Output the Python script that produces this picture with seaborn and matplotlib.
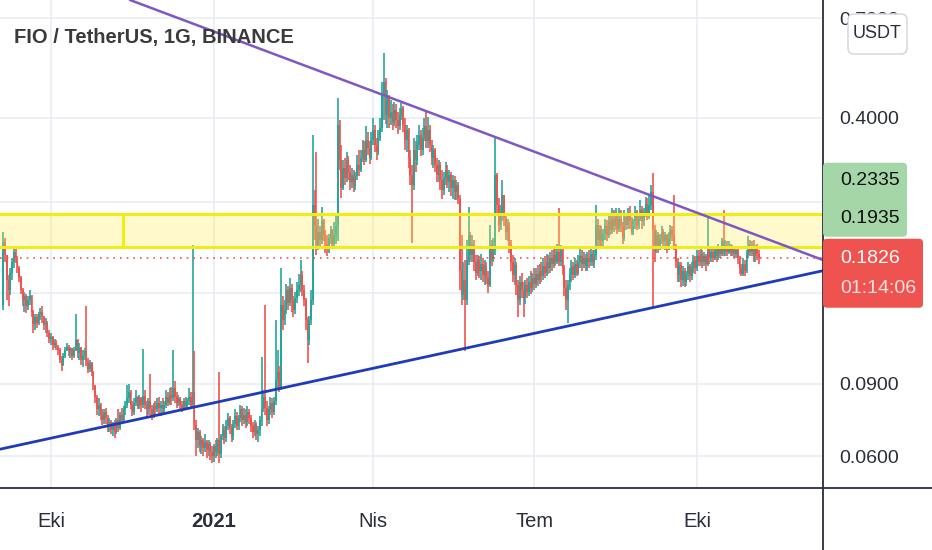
import matplotlib
matplotlib.use("Agg")
import matplotlib.pyplot as plt
from matplotlib.patches import FancyBboxPatch, Rectangle
from matplotlib.lines import Line2D
from matplotlib.ticker import NullLocator
from matplotlib.transforms import IdentityTransform
import numpy as np
import pandas as pd
import seaborn as sns

sns.set_theme(style="white")
plt.rcParams['font.family'] = ['Liberation Sans', 'DejaVu Sans']

# ----- data (FIO/USDT daily) -----
start_date = "2020-09-04"
first_open = 0.140

closes = [
    0.200, 0.185, 0.161, 0.152, 0.168, 0.178, 0.189, 0.182, 0.172, 0.163,
    0.152, 0.144, 0.147, 0.139, 0.144, 0.147, 0.135, 0.126, 0.131, 0.127,
    0.133, 0.135, 0.131, 0.125, 0.127, 0.120, 0.116, 0.117, 0.112, 0.113,
    0.111, 0.109, 0.103, 0.100, 0.105, 0.109, 0.111, 0.108, 0.110, 0.105,
    0.109, 0.115, 0.107, 0.110, 0.103, 0.105, 0.108, 0.102, 0.098, 0.101,
    0.096, 0.089, 0.0835, 0.078, 0.080, 0.0757, 0.0735, 0.077, 0.0743, 0.071,
    0.0727, 0.0695, 0.072, 0.0687, 0.0735, 0.0703, 0.0757, 0.0735, 0.078, 0.080,
    0.083, 0.086, 0.080, 0.077, 0.081, 0.0835, 0.0795, 0.083, 0.080, 0.084,
    0.080, 0.078, 0.082, 0.078, 0.0757, 0.0795, 0.078, 0.081, 0.0785, 0.080,
    0.078, 0.080, 0.0835, 0.081, 0.0845, 0.083, 0.088, 0.0835, 0.081, 0.083,
    0.080, 0.0785, 0.082, 0.0795, 0.082, 0.0835, 0.080, 0.086, 0.0715, 0.0657,
    0.0687, 0.0635, 0.0657, 0.0628, 0.065, 0.0621, 0.0643, 0.0614, 0.060, 0.0635,
    0.0614, 0.0657, 0.0607, 0.0672, 0.0695, 0.0664, 0.071, 0.0743, 0.0703, 0.0672,
    0.072, 0.075, 0.071, 0.0743, 0.078, 0.0735, 0.0757, 0.0727, 0.077, 0.0743,
    0.071, 0.0687, 0.072, 0.068, 0.0695, 0.0735, 0.078, 0.0835, 0.0785, 0.0735,
    0.078, 0.081, 0.077, 0.082, 0.092, 0.096, 0.0885, 0.140, 0.129, 0.136,
    0.152, 0.142, 0.154, 0.144, 0.136, 0.146, 0.152, 0.157, 0.166, 0.152,
    0.144, 0.129, 0.115, 0.129, 0.144, 0.246, 0.219, 0.196, 0.211, 0.202,
    0.224, 0.207, 0.197, 0.193, 0.204, 0.213, 0.197, 0.207, 0.218, 0.385,
    0.316, 0.270, 0.302, 0.285, 0.316, 0.295, 0.279, 0.290, 0.273, 0.289,
    0.307, 0.299, 0.319, 0.334, 0.316, 0.354, 0.338, 0.319, 0.354, 0.374,
    0.344, 0.331, 0.358, 0.378, 0.455, 0.490, 0.407, 0.448, 0.400, 0.414,
    0.391, 0.418, 0.396, 0.383, 0.407, 0.422, 0.385, 0.354, 0.374, 0.319,
    0.290, 0.275, 0.334, 0.316, 0.344, 0.364, 0.334, 0.358, 0.383, 0.351,
    0.374, 0.344, 0.319, 0.334, 0.307, 0.290, 0.307, 0.282, 0.267, 0.285,
    0.299, 0.279, 0.290, 0.270, 0.282, 0.264, 0.275, 0.254, 0.170, 0.148,
    0.161, 0.144, 0.180, 0.208, 0.185, 0.196, 0.178, 0.168, 0.180, 0.170,
    0.176, 0.166, 0.174, 0.163, 0.157, 0.196, 0.180, 0.191, 0.290, 0.246,
    0.219, 0.232, 0.260, 0.228, 0.211, 0.220, 0.196, 0.178, 0.166, 0.175,
    0.157, 0.144, 0.159, 0.152, 0.146, 0.157, 0.151, 0.159, 0.154, 0.163,
    0.158, 0.167, 0.161, 0.170, 0.165, 0.174, 0.168, 0.178, 0.172, 0.182,
    0.176, 0.185, 0.178, 0.189, 0.178, 0.191, 0.172, 0.154, 0.144, 0.157,
    0.166, 0.174, 0.166, 0.176, 0.168, 0.178, 0.184, 0.176, 0.182, 0.174,
    0.182, 0.178, 0.187, 0.178, 0.185, 0.219, 0.202, 0.213, 0.201, 0.209,
    0.218, 0.207, 0.224, 0.213, 0.227, 0.218, 0.230, 0.215, 0.227, 0.218,
    0.204, 0.230, 0.220, 0.232, 0.224, 0.211, 0.224, 0.232, 0.218, 0.227,
    0.239, 0.224, 0.236, 0.247, 0.232, 0.246, 0.264, 0.213, 0.196, 0.207,
    0.195, 0.204, 0.211, 0.201, 0.207, 0.195, 0.204, 0.213, 0.207, 0.195,
    0.178, 0.166, 0.175, 0.161, 0.170, 0.159, 0.167, 0.174, 0.165, 0.172,
    0.180, 0.172, 0.184, 0.178, 0.187, 0.178, 0.184, 0.176, 0.191, 0.182,
    0.189, 0.182, 0.191, 0.184, 0.193, 0.187, 0.201, 0.189, 0.195, 0.189,
    0.195, 0.189, 0.193, 0.187, 0.191, 0.182, 0.172, 0.167, 0.176, 0.170,
    0.185, 0.196, 0.189, 0.195, 0.184, 0.193, 0.187, 0.1826,
]

highs = [
    0.211, 0.204, 0.182, 0.166, 0.172, 0.182, 0.194, 0.193, 0.184, 0.174,
    0.165, 0.154, 0.151, 0.149, 0.147, 0.152, 0.148, 0.136, 0.133, 0.133,
    0.135, 0.138, 0.139, 0.132, 0.130, 0.128, 0.122, 0.120, 0.118, 0.116,
    0.115, 0.112, 0.110, 0.105, 0.107, 0.111, 0.113, 0.112, 0.111, 0.110,
    0.111, 0.133, 0.116, 0.113, 0.111, 0.109, 0.110, 0.139, 0.104, 0.103,
    0.102, 0.097, 0.0895, 0.0845, 0.083, 0.081, 0.078, 0.078, 0.0785, 0.0757,
    0.0743, 0.0735, 0.0727, 0.0735, 0.0743, 0.078, 0.077, 0.0785, 0.0795, 0.082,
    0.0895, 0.090, 0.087, 0.082, 0.083, 0.087, 0.084, 0.0845, 0.0835, 0.1095,
    0.087, 0.082, 0.083, 0.095, 0.080, 0.081, 0.082, 0.083, 0.0835, 0.082,
    0.083, 0.082, 0.087, 0.086, 0.088, 0.0885, 0.109, 0.0915, 0.086, 0.0845,
    0.0835, 0.082, 0.083, 0.0835, 0.083, 0.088, 0.086, 0.196, 0.108, 0.0735,
    0.0703, 0.0695, 0.0672, 0.0664, 0.068, 0.0657, 0.0657, 0.065, 0.0635, 0.0643,
    0.0657, 0.0664, 0.096, 0.068, 0.072, 0.071, 0.0735, 0.0763, 0.075, 0.072,
    0.0735, 0.078, 0.077, 0.0757, 0.080, 0.0795, 0.0785, 0.078, 0.0795, 0.078,
    0.0757, 0.0727, 0.0735, 0.0727, 0.071, 0.075, 0.1045, 0.087, 0.140, 0.082,
    0.0795, 0.0835, 0.083, 0.0835, 0.129, 0.109, 0.0995, 0.172, 0.147, 0.144,
    0.158, 0.156, 0.163, 0.158, 0.147, 0.151, 0.159, 0.167, 0.180, 0.170,
    0.157, 0.146, 0.131, 0.132, 0.152, 0.364, 0.267, 0.331, 0.227, 0.218,
    0.243, 0.227, 0.213, 0.207, 0.209, 0.218, 0.215, 0.223, 0.234, 0.447,
    0.396, 0.344, 0.316, 0.319, 0.331, 0.324, 0.307, 0.302, 0.299, 0.295,
    0.325, 0.334, 0.334, 0.354, 0.351, 0.382, 0.370, 0.351, 0.370, 0.400,
    0.385, 0.358, 0.374, 0.400, 0.490, 0.576, 0.501, 0.468, 0.455, 0.443,
    0.433, 0.438, 0.433, 0.414, 0.422, 0.435, 0.427, 0.400, 0.385, 0.378,
    0.334, 0.307, 0.358, 0.351, 0.364, 0.385, 0.374, 0.378, 0.400, 0.414,
    0.402, 0.385, 0.354, 0.344, 0.338, 0.319, 0.316, 0.312, 0.299, 0.295,
    0.312, 0.307, 0.299, 0.295, 0.290, 0.289, 0.282, 0.279, 0.260, 0.208,
    0.178, 0.180, 0.202, 0.243, 0.211, 0.208, 0.202, 0.185, 0.185, 0.184,
    0.187, 0.182, 0.180, 0.178, 0.170, 0.219, 0.202, 0.204, 0.360, 0.293,
    0.256, 0.246, 0.282, 0.259, 0.235, 0.227, 0.223, 0.202, 0.185, 0.182,
    0.178, 0.161, 0.165, 0.168, 0.159, 0.161, 0.163, 0.165, 0.170, 0.168,
    0.172, 0.172, 0.175, 0.176, 0.178, 0.182, 0.184, 0.187, 0.185, 0.189,
    0.191, 0.193, 0.195, 0.197, 0.241, 0.196, 0.193, 0.175, 0.161, 0.161,
    0.172, 0.180, 0.178, 0.182, 0.180, 0.185, 0.193, 0.191, 0.189, 0.187,
    0.189, 0.191, 0.193, 0.191, 0.191, 0.246, 0.227, 0.220, 0.218, 0.215,
    0.227, 0.226, 0.234, 0.235, 0.241, 0.239, 0.241, 0.235, 0.241, 0.239,
    0.223, 0.239, 0.235, 0.241, 0.244, 0.230, 0.227, 0.244, 0.239, 0.235,
    0.252, 0.244, 0.241, 0.257, 0.256, 0.260, 0.275, 0.293, 0.219, 0.213,
    0.211, 0.209, 0.218, 0.215, 0.211, 0.209, 0.211, 0.220, 0.218, 0.260,
    0.197, 0.182, 0.178, 0.178, 0.174, 0.172, 0.170, 0.178, 0.176, 0.178,
    0.185, 0.184, 0.191, 0.191, 0.193, 0.191, 0.189, 0.187, 0.233, 0.195,
    0.195, 0.193, 0.195, 0.195, 0.197, 0.195, 0.204, 0.239, 0.202, 0.201,
    0.201, 0.197, 0.196, 0.195, 0.195, 0.193, 0.184, 0.176, 0.182, 0.180,
    0.191, 0.206, 0.202, 0.201, 0.202, 0.196, 0.197, 0.191,
]

lows = [
    0.136, 0.178, 0.144, 0.139, 0.148, 0.161, 0.172, 0.177, 0.168, 0.159,
    0.149, 0.139, 0.135, 0.134, 0.136, 0.140, 0.131, 0.120, 0.122, 0.123,
    0.125, 0.129, 0.127, 0.122, 0.120, 0.117, 0.113, 0.112, 0.109, 0.110,
    0.109, 0.106, 0.101, 0.097, 0.0995, 0.104, 0.108, 0.105, 0.104, 0.103,
    0.104, 0.108, 0.104, 0.103, 0.100, 0.099, 0.103, 0.0995, 0.0955, 0.096,
    0.094, 0.087, 0.081, 0.0755, 0.075, 0.0735, 0.0715, 0.072, 0.072, 0.0687,
    0.0687, 0.068, 0.0672, 0.0664, 0.068, 0.0687, 0.0695, 0.072, 0.0727, 0.0757,
    0.0785, 0.081, 0.078, 0.075, 0.0757, 0.0795, 0.078, 0.078, 0.077, 0.0785,
    0.078, 0.0743, 0.0757, 0.0757, 0.0735, 0.0743, 0.075, 0.077, 0.0757, 0.075,
    0.0757, 0.0757, 0.0785, 0.0795, 0.080, 0.080, 0.082, 0.081, 0.0785, 0.0795,
    0.078, 0.077, 0.078, 0.078, 0.0785, 0.080, 0.0785, 0.0795, 0.0695, 0.060,
    0.0628, 0.0614, 0.0607, 0.060, 0.0614, 0.0594, 0.060, 0.0587, 0.0577, 0.058,
    0.0594, 0.060, 0.0577, 0.0594, 0.0657, 0.0643, 0.065, 0.0695, 0.068, 0.065,
    0.0657, 0.0703, 0.0695, 0.0695, 0.0727, 0.071, 0.072, 0.0703, 0.071, 0.072,
    0.0687, 0.0664, 0.0672, 0.0657, 0.065, 0.0672, 0.071, 0.077, 0.0757, 0.071,
    0.072, 0.0757, 0.0743, 0.0757, 0.080, 0.088, 0.086, 0.087, 0.122, 0.125,
    0.133, 0.136, 0.139, 0.135, 0.131, 0.133, 0.142, 0.147, 0.151, 0.147,
    0.139, 0.122, 0.101, 0.112, 0.125, 0.140, 0.202, 0.185, 0.191, 0.194,
    0.197, 0.201, 0.188, 0.184, 0.188, 0.197, 0.193, 0.195, 0.197, 0.201,
    0.299, 0.256, 0.267, 0.275, 0.279, 0.282, 0.267, 0.270, 0.264, 0.267,
    0.282, 0.289, 0.295, 0.312, 0.307, 0.312, 0.325, 0.309, 0.316, 0.344,
    0.331, 0.316, 0.325, 0.351, 0.370, 0.396, 0.387, 0.378, 0.378, 0.385,
    0.374, 0.383, 0.378, 0.366, 0.374, 0.396, 0.370, 0.334, 0.331, 0.302,
    0.275, 0.198, 0.267, 0.295, 0.307, 0.334, 0.323, 0.325, 0.351, 0.338,
    0.338, 0.331, 0.307, 0.302, 0.295, 0.279, 0.279, 0.267, 0.254, 0.260,
    0.275, 0.270, 0.264, 0.258, 0.254, 0.252, 0.252, 0.247, 0.152, 0.140,
    0.144, 0.108, 0.140, 0.175, 0.178, 0.178, 0.170, 0.161, 0.165, 0.163,
    0.161, 0.159, 0.157, 0.158, 0.150, 0.155, 0.174, 0.178, 0.185, 0.232,
    0.211, 0.213, 0.224, 0.218, 0.202, 0.201, 0.188, 0.170, 0.159, 0.157,
    0.148, 0.131, 0.140, 0.146, 0.131, 0.141, 0.146, 0.147, 0.149, 0.151,
    0.152, 0.154, 0.156, 0.158, 0.159, 0.161, 0.163, 0.165, 0.167, 0.168,
    0.170, 0.172, 0.174, 0.176, 0.174, 0.174, 0.166, 0.147, 0.136, 0.127,
    0.152, 0.159, 0.161, 0.163, 0.165, 0.166, 0.172, 0.170, 0.172, 0.170,
    0.170, 0.172, 0.174, 0.174, 0.172, 0.180, 0.195, 0.193, 0.193, 0.195,
    0.202, 0.201, 0.204, 0.207, 0.209, 0.211, 0.213, 0.209, 0.211, 0.211,
    0.197, 0.201, 0.213, 0.215, 0.215, 0.207, 0.207, 0.215, 0.213, 0.215,
    0.224, 0.215, 0.218, 0.230, 0.226, 0.227, 0.239, 0.138, 0.178, 0.188,
    0.188, 0.191, 0.197, 0.193, 0.191, 0.188, 0.191, 0.197, 0.201, 0.191,
    0.172, 0.159, 0.159, 0.155, 0.156, 0.155, 0.156, 0.161, 0.159, 0.161,
    0.168, 0.167, 0.170, 0.174, 0.174, 0.172, 0.174, 0.170, 0.174, 0.176,
    0.178, 0.178, 0.180, 0.178, 0.180, 0.182, 0.184, 0.184, 0.184, 0.184,
    0.187, 0.184, 0.184, 0.182, 0.182, 0.176, 0.167, 0.165, 0.165, 0.165,
    0.168, 0.182, 0.184, 0.184, 0.178, 0.178, 0.180, 0.176,
]

# drawn objects
zone_low, zone_high = 0.1935, 0.2335
zone_split_date = "2020-11-10 16:00"
upper_trend_dates = ["2020-11-14 15:00", "2021-12-11 04:00"]
upper_trend_prices = [0.775, 0.1803]
lower_trend_dates = ["2020-09-02 04:30", "2021-12-11 04:00"]
lower_trend_prices = [0.0624, 0.1698]

y_ticks = [0.7, 0.4, 0.25, 0.15, 0.09, 0.06]
y_tick_labels = ["0.7000", "0.4000", "", "", "0.0900", "0.0600"]
x_ticks = ["2020-10-01", "2021-01-01", "2021-04-01", "2021-07-01", "2021-10-01"]
x_tick_labels = ["Eki", "2021", "Nis", "Tem", "Eki"]
x_range = ["2020-09-02 04:30", "2021-12-11 04:00"]
y_range = [0.0502, 0.775]
countdown = "01:14:06"
title = "FIO / TetherUS, 1G, BINANCE"

UP, DOWN = "#26a69a", "#ef5350"
TXT = "#2a2e39"
W, H = 932, 550

# ----- frame -----
dates = pd.date_range(start_date, periods=len(closes), freq="D")
opens = [first_open] + closes[:-1]
df = pd.DataFrame({"date": dates, "open": opens, "high": highs,
                   "low": lows, "close": closes})
df["color"] = np.where(df["close"] >= df["open"], UP, DOWN)

fig = plt.figure(figsize=(W / 100, H / 100), dpi=100)
fig.patch.set_facecolor("white")
ax = fig.add_axes([0, 62 / H, 823 / W, 488 / H])
ax.set_facecolor("white")

ax.set_yscale("log")
ax.set_ylim(*y_range)
ax.set_xlim(pd.Timestamp(x_range[0]), pd.Timestamp(x_range[1]))

# candles
ax.vlines(df["date"], df["low"], df["high"], colors=df["color"], lw=1.2, zorder=2)
ax.bar(df["date"], df["close"] - df["open"], bottom=df["open"], width=0.95,
       color=df["color"], linewidth=0, zorder=3)

# support/resistance zone (fill over candles, like the screenshot)
x_left = pd.Timestamp(x_range[0]) - pd.Timedelta(days=30)
x_right = pd.Timestamp(x_range[1]) + pd.Timedelta(days=30)
ax.add_patch(Rectangle((matplotlib.dates.date2num(x_left), zone_low),
                       matplotlib.dates.date2num(x_right) - matplotlib.dates.date2num(x_left),
                       zone_high - zone_low, facecolor="#ffee58", alpha=0.3,
                       edgecolor="none", zorder=4))
ax.hlines([zone_low, zone_high], x_left, x_right, colors="#f0ec14", lw=2.2, zorder=5)
ax.vlines(pd.Timestamp(zone_split_date), zone_low, zone_high, colors="#f0ec14", lw=2.2, zorder=5)

# last price line
ax.axhline(closes[-1], color=DOWN, lw=1.2, ls=(0, (1, 3)), zorder=4)

# trend lines
sns.lineplot(x=pd.to_datetime(upper_trend_dates), y=upper_trend_prices, ax=ax,
             color="#7e57c2", lw=1.8, zorder=6)
sns.lineplot(x=pd.to_datetime(lower_trend_dates), y=lower_trend_prices, ax=ax,
             color="#1e3cb8", lw=2.0, zorder=6)

# axes cosmetics
ax.set_yticks(y_ticks, y_tick_labels)
ax.yaxis.set_minor_locator(NullLocator())
ax.yaxis.tick_right()
ax.set_xticks(pd.to_datetime(x_ticks), x_tick_labels)
ax.tick_params(axis="y", which="both", length=0, pad=12, labelsize=14, labelcolor=TXT)
ax.tick_params(axis="x", which="both", length=0, pad=17, labelsize=14.5, labelcolor=TXT)
ax.get_xticklabels()[1].set_fontweight("bold")
ax.grid(True, color="#e9ecf2", lw=1.2, zorder=0)
ax.set_axisbelow(True)
for s in ax.spines.values():
    s.set_visible(False)
ax.set_xlabel("")
ax.set_ylabel("")

ident = IdentityTransform()
fig.add_artist(Line2D([0, W], [H - 488, H - 488], transform=ident, color=TXT, lw=1.3))
fig.add_artist(Line2D([823, 823], [0, H], transform=ident, color=TXT, lw=1.3))


def box(x0, top, x1, bottom, fc, ec="none", r=4):
    p = FancyBboxPatch((x0, H - bottom), x1 - x0, bottom - top,
                       boxstyle=f"round,pad=0,rounding_size={r}",
                       transform=ident, fc=fc, ec=ec, lw=1, zorder=10)
    fig.add_artist(p)


def label(x, y, s, color, size=14, weight="normal"):
    fig.text(x, H - y, s, transform=ident, color=color, fontsize=size,
             fontweight=weight, ha="left", va="center", zorder=11)


# price scale labels
axr = ax.transAxes.transform((1, 0))[0]
y_last = H - ax.transData.transform((0, closes[-1]))[1]
box(axr, y_last - 95, 907, y_last - 21, "#a5d6a7")
box(axr, y_last - 19, 923, y_last + 50, DOWN)
label(axr + 17, y_last - 77, f"{zone_high:.4f}", "#111111")
label(axr + 17, y_last - 39, f"{zone_low:.4f}", "#111111")
label(axr + 17, y_last + 1, f"{closes[-1]:.4f}", "white")
label(axr + 17, y_last + 31, countdown, "#fde3e2")

# currency badge
box(848, 14, 907, 54, "white", ec="#d1d4dc", r=6)
fig.text(877, H - 34, "USDT", transform=ident, color=TXT, fontsize=13,
         ha="center", va="center", zorder=11)

# title
fig.text(14, H - 37, title, transform=ident, color="#3a3a3a", fontsize=14.5,
         fontweight="bold", ha="left", va="center", zorder=11)

fig.savefig("out.png", dpi=100)
